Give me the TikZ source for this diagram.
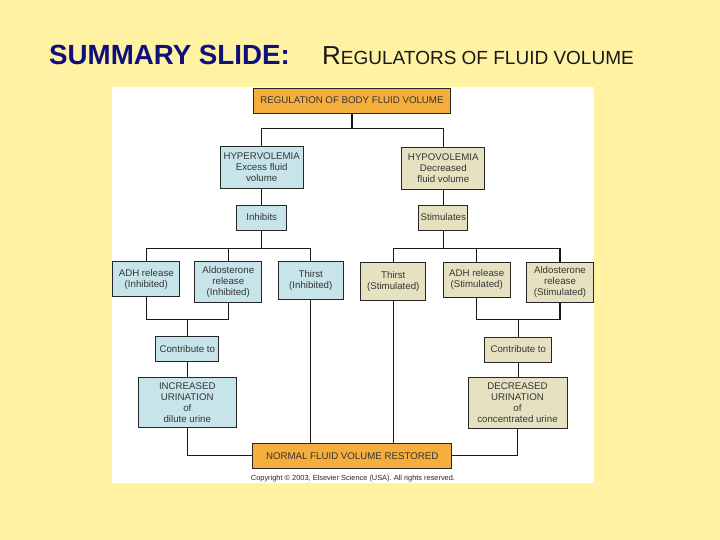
\documentclass[tikz,border=0pt]{standalone}
\usepackage{fontspec}
\setmainfont{Liberation Sans}
\usetikzlibrary{positioning}
\definecolor{slidebg}{HTML}{FFF2A3}
\definecolor{bluebox}{HTML}{C6E4E9}
\definecolor{khakibox}{HTML}{E6E2C1}
\definecolor{orangebox}{HTML}{F5AD3C}
\definecolor{navy}{HTML}{10107C}
\definecolor{boxtext}{HTML}{353535}
\tikzset{
  box/.style={draw=black!85, line width=0.9pt, align=center, inner sep=1pt,
    font=\fontsize{9.7}{11}\selectfont, text=boxtext},
  bluenode/.style={box, fill=bluebox},
  khakinode/.style={box, fill=khakibox},
  orangenode/.style={box, fill=orangebox},
  link/.style={draw=black!90, line width=1.1pt},
}
\begin{document}
\begin{tikzpicture}[x=1pt,y=-1pt]
\useasboundingbox (0,0) rectangle (720,540);
\fill[slidebg] (0,0) rectangle (720,540);
\fill[white] (112,87) rectangle (594,483);
% title
\node[anchor=base west, inner sep=0, text=navy, font=\fontsize{27.7}{30}\bfseries\selectfont] (t1) at (49,65) {SUMMARY SLIDE:};
\node[anchor=base west, inner sep=0, text=black!90, font=\fontsize{19}{22}\selectfont] (t2) at (322,65) {{\fontsize{26}{30}\selectfont R}EGULATORS OF FLUID VOLUME};
% nodes
\node[orangenode, minimum width=197pt, minimum height=25pt] (top) at (352,100.5) {REGULATION OF BODY FLUID VOLUME};
\node[bluenode, minimum width=83pt, minimum height=42pt] (hyper) at (261.7,167.5) {HYPERVOLEMIA\\Excess fluid\\volume};
\node[khakinode, minimum width=83pt, minimum height=42pt] (hypo) at (443.3,168) {HYPOVOLEMIA\\Decreased\\fluid volume};
\node[bluenode, minimum width=50pt, minimum height=25pt] (inhib) at (261.7,217.5) {Inhibits};
\node[khakinode, minimum width=49pt, minimum height=25pt] (stim) at (443.3,217.5) {Stimulates};
\node[bluenode, minimum width=67pt, minimum height=35pt] (adhI) at (146.3,279.2) {ADH release\\(Inhibited)};
\node[bluenode, minimum width=67pt, minimum height=41pt] (aldoI) at (228.3,282.2) {Aldosterone\\release\\(Inhibited)};
\node[bluenode, minimum width=65pt, minimum height=38pt] (thirstI) at (310.8,280.8) {Thirst\\(Inhibited)};
\node[khakinode, minimum width=65pt, minimum height=38pt] (thirstS) at (393.3,281) {Thirst\\(Stimulated)};
\node[khakinode, minimum width=67pt, minimum height=35pt] (adhS) at (476.7,279.5) {ADH release\\(Stimulated)};
\node[khakinode, minimum width=67pt, minimum height=40pt] (aldoS) at (560,282) {Aldosterone\\release\\(Stimulated)};
\node[bluenode, minimum width=63pt, minimum height=25pt] (contL) at (187.3,349.3) {Contribute to};
\node[khakinode, minimum width=67pt, minimum height=25pt] (contR) at (518.3,349.5) {Contribute to};
\node[bluenode, minimum width=98pt, minimum height=50pt] (incr) at (187.3,402.5) {INCREASED\\URINATION\\of\\dilute urine};
\node[khakinode, minimum width=99pt, minimum height=51pt] (decr) at (517.5,402.8) {DECREASED\\URINATION\\of\\concentrated urine};
\node[orangenode, minimum width=199pt, minimum height=25pt] (normal) at (352.2,455.8) {NORMAL FLUID VOLUME RESTORED};
\node[inner sep=0, font=\fontsize{7.4}{9}\selectfont, text=black!85] (copy) at (353,478.3) {Copyright \textcopyright{} 2003, Elsevier Science (USA). All rights reserved.};
% junction coordinates
\coordinate (j1) at (352,128.3);
\coordinate (j2) at (261.7,248.3);
\coordinate (j3) at (443.3,248.3);
\coordinate (j4) at (187.3,319.3);
\coordinate (j5) at (518.3,319.6);
% connectors
\draw[link] (top.south) -- (j1);
\draw[link] (hyper.north) |- (j1) -| (hypo.north);
\draw[link] (hyper) -- (inhib);
\draw[link] (hypo) -- (stim);
\draw[link] (inhib.south) -- (j2);
\draw[link] (adhI.north) |- (j2) -| (thirstI.north);
\draw[link] (aldoI.north) -- (aldoI.north |- j2);
\draw[link] (stim.south) -- (j3);
\draw[link] (thirstS.north) |- (j3) -| (aldoS.north);
\draw[link] (adhS.north) -- (adhS.north |- j3);
\draw[link] (adhI.south) |- (j4) -| (aldoI.south);
\draw[link] (j4) -- (contL.north);
\draw[link] (adhS.south) |- (j5);
\draw[link] (j5) -| (aldoS.south);
\draw[link] (j5) -- (contR.north);
\draw[link] (contL) -- (incr);
\draw[link] (contR.south) -- (contR.south |- decr.north);
\draw[link] (incr.south) |- (normal.west);
\draw[link] (decr.south) |- (normal.east);
\draw[link] (thirstI.south) -- (thirstI.south |- normal.north);
\draw[link] (thirstS.south) -- (thirstS.south |- normal.north);
\end{tikzpicture}
\end{document}
